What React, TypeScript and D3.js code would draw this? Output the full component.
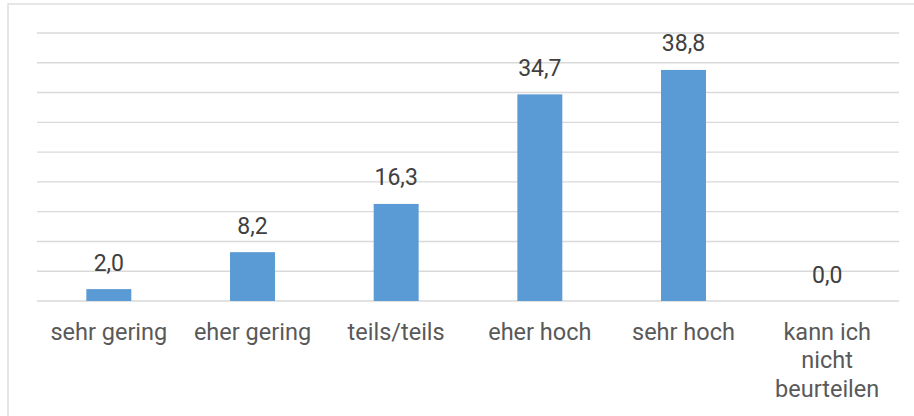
import React from "react";
import * as d3 from "d3";

const categories: string[][] = [
  ["sehr gering"],
  ["eher gering"],
  ["teils/teils"],
  ["eher hoch"],
  ["sehr hoch"],
  ["kann ich", "nicht", "beurteilen"],
];
const values: number[] = [2.0, 8.2, 16.3, 34.7, 38.8, 0.0];
const gridTicks: number[] = [0, 5, 10, 15, 20, 25, 30, 35, 40, 45];

const W = 914;
const H = 416;
const left = 37;
const right = 899;
const top = 33;
const bottom = 301;

export default function App() {
  const keys = categories.map((c) => c.join(" "));
  const x = d3.scaleBand<string>().domain(keys).range([left, right]).paddingInner(0.687).paddingOuter(0.3435);
  const y = d3.scaleLinear().domain([0, 45]).range([bottom, top]);
  const fmt = (v: number) => d3.format(".1f")(v).replace(".", ",");

  return (
    <svg
      width={W}
      height={H}
      style={{ position: "absolute", left: 0, top: 0, display: "block", background: "#fff" }}
      fontFamily="Roboto, sans-serif"
    >
      <rect x={8} y={4} width={W + 20} height={H + 20} fill="#fff" stroke="#d9d9d9" strokeWidth={1.3} />
      {gridTicks.map((t) => (
        <line key={t} x1={left} x2={right} y1={y(t)} y2={y(t)} stroke="#d9d9d9" strokeWidth={1.4} />
      ))}
      {values.map((v, i) => (
        <rect
          key={keys[i]}
          x={x(keys[i])}
          y={y(v)}
          width={x.bandwidth()}
          height={bottom - y(v)}
          fill="#5b9bd5"
        />
      ))}
      {values.map((v, i) => (
        <text
          key={"l" + i}
          x={(x(keys[i]) as number) + x.bandwidth() / 2}
          y={y(v) - 18.5}
          textAnchor="middle"
          fontSize={23}
          fill="#404040"
        >
          {fmt(v)}
        </text>
      ))}
      {categories.map((lines, i) => (
        <text
          key={"c" + i}
          x={(x(keys[i]) as number) + x.bandwidth() / 2}
          y={340}
          textAnchor="middle"
          fontSize={23.5}
          fill="#595959"
        >
          {lines.map((ln, j) => (
            <tspan key={j} x={(x(keys[i]) as number) + x.bandwidth() / 2} dy={j === 0 ? 0 : 28.3}>
              {ln}
            </tspan>
          ))}
        </text>
      ))}
    </svg>
  );
}
